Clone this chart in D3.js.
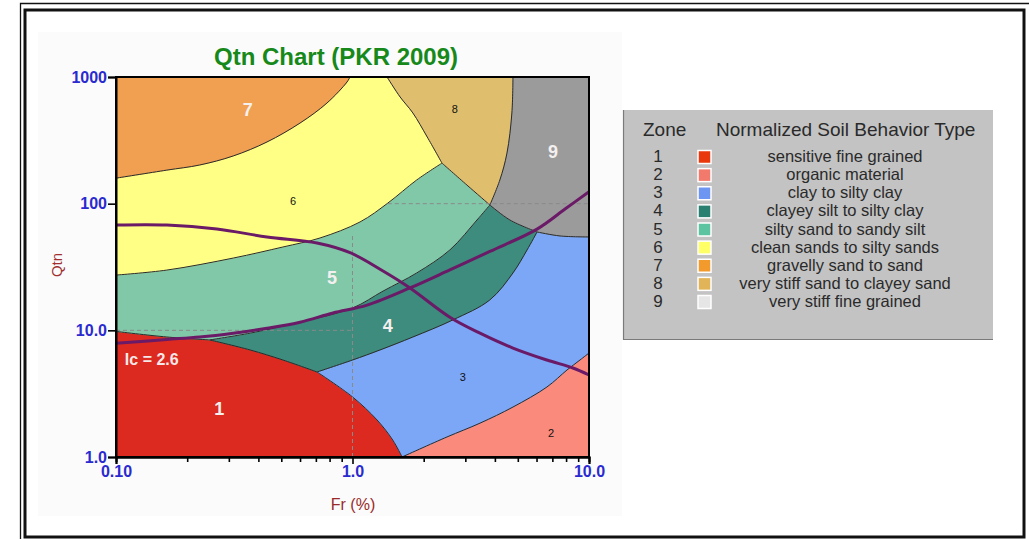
<!DOCTYPE html>
<html><head><meta charset="utf-8">
<script src="https://cdn.jsdelivr.net/npm/d3@7"></script>
<style>body{margin:0;background:#fff}svg{display:block}text{font-family:Arial,"Liberation Sans",sans-serif}</style>
</head><body><svg id="c" width="1029" height="539"></svg>
<script>
// ---- data: boundaries as [Fr %, Qtn] ----
const b7_6 = [[0.10,159],[0.164,184],[0.226,202],[0.313,238],[0.435,307],[0.60,433],[0.78,623],[0.948,913],[0.976,1000]];
const b6_8 = [[1.40,1000],[1.59,695],[1.80,520],[2.07,336],[2.39,209]];
const b6_5 = [[0.10,27.3],[0.164,29.9],[0.313,37.2],[0.508,45.5],[0.729,53.6],[1.076,71.7],[1.41,101],[1.87,154],[2.39,209]];
const b8_5 = [[2.39,209],[3.05,140],[3.81,97.6]];
const b8_9 = [[4.77,1000],[4.72,520],[4.50,251],[4.20,154],[3.81,97.6]];
const b9_4 = [[3.81,97.6],[4.63,74.3],[6.03,59.8]];
const b9_3 = [[6.03,59.8],[7.54,55.6],[10,54.6]];
const b5_4 = [[0.249,8.4],[0.369,9.5],[0.60,11.6],[1.0,15.0],[1.346,20.4],[1.87,28.4],[2.58,43.1],[3.36,74.3],[3.81,97.6]];
const b1_5 = [[0.10,9.8],[0.164,8.86],[0.249,8.4]];
const b1_4 = [[0.249,8.4],[0.369,7.0],[0.508,5.83],[0.708,4.69]];
const b1_3 = [[0.708,4.69],[1.0,2.98],[1.27,1.96],[1.48,1.36],[1.62,1.0]];
const b4_3 = [[0.708,4.69],[1.0,5.83],[1.307,7.0],[1.80,8.86],[2.66,12.1],[3.81,17.4],[4.77,28.4],[5.47,43.1],[6.03,59.8]];
const b3_2 = [[1.62,1.0],[2.51,1.44],[3.46,1.85],[4.77,2.48],[6.64,3.57],[8.07,4.86],[9.16,5.83],[10,6.62]];
const corners = {tl:[0.1,1000], tr:[10,1000], br:[10,1], bl:[0.1,1]};

const icLine = [[0.10,7.9],[0.164,8.47],[0.226,8.86],[0.313,9.5],[0.435,10.4],[0.60,11.6],[0.827,13.7],[1.152,15.8],[1.75,21.6],[2.58,30],[3.81,42],[6.03,63],[8.0,92],[10,124]];
const cdLine = [[0.10,67.8],[0.164,67.8],[0.267,63.1],[0.435,54.6],[0.708,48.9],[0.976,41],[1.346,29.4],[1.75,21.6],[2.58,12.7],[3.46,9.5],[4.77,7.25],[6.64,5.83],[8.55,5.04],[10,4.44]];
const refV1 = [[1,1],[1,58]];
const refH10 = [[0.1,10],[1,10]];
const refH100 = [[1.41,100],[10,100]];

const xTicks = [0.1,1,10], xTickLabels = ["0.10","1.0","10.0"];
const xMinor = [0.2,0.3,0.4,0.5,0.6,0.7,0.8,0.9,2,3,4,5,6,7,8,9];
const yTicks = [1,10,100,1000], yTickLabels = ["1.0","10.0","100","1000"];

const zoneIds = ["1","2","3","4","5","6","7","8","9"];
const zoneNames = ["sensitive fine grained","organic material","clay to silty clay","clayey silt to silty clay","silty sand to sandy silt","clean sands to silty sands","gravelly sand to sand","very stiff sand to clayey sand","very stiff fine grained"];
const zoneFill = ["#dc2a20","#f98a7c","#7ca6f6","#3d8c7e","#80c8a8","#ffff85","#f0a050","#dfbf6e","#9b9b9b"];
const zoneSwatch = ["#e8380c","#f27a6c","#6c96f2","#2a8070","#5cc4a0","#ffff66","#f39a2c","#e2b458","#e6e6e6"];

// ---- drawing ----
const svg = d3.select("#c");
const x = d3.scaleLog().domain([0.1,10]).range([116,589]);
const y = d3.scaleLog().domain([1,1000]).range([457,77]);
const rev = a => a.slice().reverse();

// frame
svg.append("rect").attr("x",38).attr("y",32).attr("width",584).attr("height",484).attr("fill","#fbfbfb");
svg.append("path").attr("d","M20.5,539V3.5H1029").attr("fill","none").attr("stroke","#111").attr("stroke-width",1.3);
svg.append("rect").attr("x",25).attr("y",10).attr("width",999).attr("height",527).attr("fill","none").attr("stroke","#111").attr("stroke-width",3);

const cline = d3.line().x(d => x(d[0])).y(d => y(d[1])).curve(d3.curveCatmullRom);
// a zone = list of boundary pieces (arrays of points); single points are corners
function zonePath(pieces){
  return pieces.map((p,i)=>{
    const s = p.length===2 && typeof p[0]==="number" ? `M${x(p[0])},${y(p[1])}` : cline(p);
    return i ? s.replace(/^M/,"L") : s;
  }).join("") + "Z";
}
const zones = [
  [b1_5, b1_4, b1_3, corners.bl],                  // 1
  [b3_2, corners.br],                              // 2
  [b4_3, b9_3, rev(b3_2), rev(b1_3)],              // 3
  [b5_4, b9_4, rev(b4_3), rev(b1_4)],              // 4
  [b6_5, b8_5, rev(b5_4), rev(b1_5)],              // 5
  [b7_6, b6_8, rev(b6_5)],                         // 6
  [corners.tl, rev(b7_6)],                         // 7
  [b6_8, b8_5, rev(b8_9)],                         // 8
  [b8_9, b9_4, b9_3, corners.tr]                   // 9
];
const g = svg.append("g");
g.selectAll("path.z").data(zones).join("path").attr("class","z")
  .attr("d", zonePath).attr("fill",(d,i)=>zoneFill[i])
  .attr("stroke",(d,i)=>zoneFill[i]).attr("stroke-width",0.6);

// zone boundaries
[b7_6,b6_8,b6_5,b8_5,b8_9,b9_4,b9_3,b5_4,b1_5,b1_4,b1_3,b4_3,b3_2].forEach(b=>{
  g.append("path").attr("d",cline(b)).attr("fill","none").attr("stroke","#2a2a2a").attr("stroke-width",1);
});

// dashed reference lines
const line = d3.line().x(d => x(d[0])).y(d => y(d[1]));
[refV1,refH10,refH100].forEach(r=>{
  g.append("path").attr("d",line(r)).attr("fill","none").attr("stroke","#8a8a8a").attr("stroke-width",1).attr("stroke-dasharray","4,3");
});

// purple lines
[icLine, cdLine].forEach(l=>{
  g.append("path").attr("d",cline(l)).attr("fill","none").attr("stroke","#6a1a66").attr("stroke-width",3);
});

// plot border
svg.append("rect").attr("x",116).attr("y",77).attr("width",473).attr("height",380).attr("fill","none").attr("stroke","#000").attr("stroke-width",2);

// axes
const xAxMinor = d3.axisBottom(x).tickValues(xMinor).tickSize(5).tickFormat("");
const xAx = d3.axisBottom(x).tickValues(xTicks).tickSize(7).tickPadding(2).tickFormat((d,i)=>xTickLabels[i]);
const yAx = d3.axisLeft(y).tickValues(yTicks).tickSize(8).tickPadding(1).tickFormat((d,i)=>yTickLabels[i]);
function style(sel){
  sel.attr("font-size",16).attr("font-family","Arial, 'Liberation Sans', sans-serif");
  sel.select(".domain").attr("stroke","#000").attr("stroke-width",2);
  sel.selectAll(".tick line").attr("stroke","#000").attr("stroke-width",1.6);
  sel.selectAll(".tick text").attr("fill","#2a2ad0").attr("font-size",16).attr("font-weight","bold");
}
svg.append("g").attr("transform","translate(0,457)").call(xAxMinor).call(style);
svg.append("g").attr("transform","translate(0,457)").call(xAx).call(style);
svg.append("g").attr("transform","translate(116,0)").call(yAx).call(style);

// titles
svg.append("text").attr("x",336).attr("y",65).attr("text-anchor","middle").attr("font-size",24).attr("font-weight","bold").attr("fill","#16891a").text("Qtn Chart (PKR 2009)");
svg.append("text").attr("transform","translate(62,265) rotate(-90)").attr("text-anchor","middle").attr("font-size",15).attr("fill","#a03030").text("Qtn");
svg.append("text").attr("x",353).attr("y",510).attr("text-anchor","middle").attr("font-size",16).attr("fill","#9a2a2a").text("Fr (%)");

// zone labels
const zoneLabels = [["7",0.361,549,true],["6",0.56,105,false],["8",2.71,559,false],["9",7.04,256,true],["5",0.819,25.9,true],["4",1.41,10.8,true],["3",2.93,4.28,false],["1",0.273,2.39,true],["2",6.91,1.55,false]];
zoneLabels.forEach(([t,fr,q,big])=>{
  svg.append("text").attr("x",x(fr)).attr("y",y(q)).attr("dy","0.35em").attr("text-anchor","middle")
    .attr("font-size",big?18:11).attr("font-weight",big?"bold":"normal").attr("fill",big?"#f4f0f0":"#111").text(t);
});
svg.append("text").attr("x",x(0.109)).attr("y",y(5.94)).attr("dy","0.35em").attr("font-size",16).attr("font-weight","bold").attr("fill","#f4e8e8").text("Ic = 2.6");

// legend
const lg = svg.append("g");
lg.append("rect").attr("x",623).attr("y",110).attr("width",370).attr("height",230).attr("fill","#c3c3c3");
lg.append("path").attr("d","M623.5,110V339.5H993").attr("fill","none").attr("stroke","#7a7a7a").attr("stroke-width",1.2);
lg.append("text").attr("x",643).attr("y",136).attr("font-size",19).attr("fill","#2a2a2a").text("Zone");
lg.append("text").attr("x",716).attr("y",136).attr("font-size",19).attr("fill","#2a2a2a").text("Normalized Soil Behavior Type");
const ly = d3.scalePoint().domain(zoneIds).range([162,307]);
zoneIds.forEach((id,i)=>{
  const yy = ly(id);
  lg.append("text").attr("x",658).attr("y",yy).attr("text-anchor","middle").attr("font-size",17).attr("fill","#2a2a2a").text(id);
  lg.append("rect").attr("x",698).attr("y",yy-11.5).attr("width",13).attr("height",13).attr("fill",zoneSwatch[i]).attr("stroke","#fff").attr("stroke-width",1.5);
  lg.append("text").attr("x",845).attr("y",yy).attr("text-anchor","middle").attr("font-size",16.5).attr("fill","#2a2a2a").text(zoneNames[i]);
});
</script></body></html>
